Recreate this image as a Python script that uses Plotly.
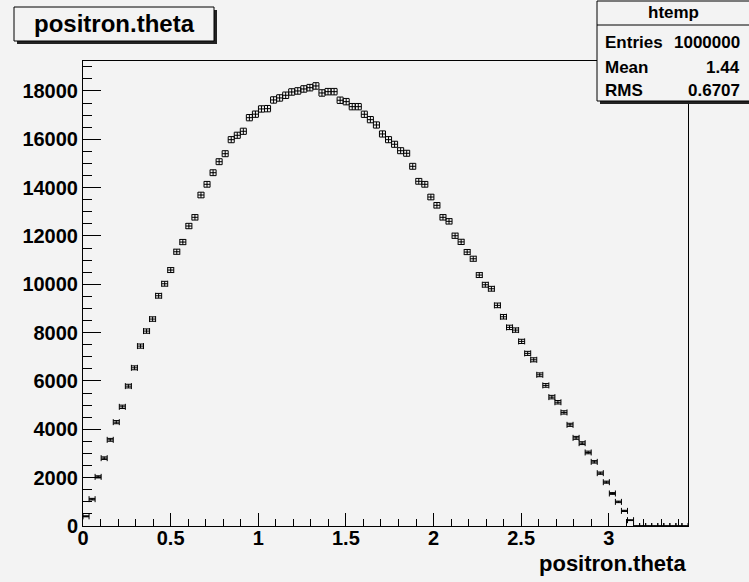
import numpy as np
import plotly.graph_objects as go

# Histogram definition (htemp)
XMIN = 0.0
XMAX = 3.452
NBINS = 100
counts = [
    400, 1110, 2033, 2807, 3565, 4297, 4931, 5788, 6545, 7444,
    8065, 8562, 9526, 10023, 10590, 11348, 11749, 12412, 12772, 13695,
    14138, 14618, 15074, 15405, 15985, 16167, 16332, 16895, 17040, 17256,
    17268, 17628, 17711, 17823, 17959, 18001, 18084, 18137, 18208, 17918,
    17972, 17972, 17616, 17558, 17351, 17351, 17036, 16813, 16593, 16221,
    15985, 15794, 15529, 15422, 14883, 14262, 14138, 13612, 13269, 12772,
    12606, 12010, 11756, 11335, 11058, 10383, 9982, 9816, 9129, 8657,
    8218, 8106, 7638, 7142, 6877, 6256, 5817, 5332, 5120, 4699,
    4186, 3647, 3428, 3043, 2654, 2186, 1813, 1346, 998, 625,
    240, 0, 0, 0, 0, 0, 0, 0, 0, 0,
]
y_ticks = [0, 2000, 4000, 6000, 8000, 10000, 12000, 14000, 16000, 18000]
y_ticklabels = ["0", "2000", "4000", "6000", "8000", "10000", "12000", "14000", "16000", "18000"]
x_ticks = [0, 0.5, 1, 1.5, 2, 2.5, 3]
x_ticklabels = ["0", "0.5", "1", "1.5", "2", "2.5", "3"]
Y_TOP = 19240

title_text = "positron.theta"
stats_name = "htemp"
stats_rows = [("Entries", "1000000"), ("Mean", "1.44"), ("RMS", "0.6707")]

W, H = 749, 582
L, R, T, B = 83, 61, 61, 56
PW, PH = W - L - R, H - T - B
BG = "#f3f3f3"
FONT = "Liberation Sans"

def fx(px):
    return (px - L) / PW

def fy(py):
    return (H - B - py) / PH

bw = (XMAX - XMIN) / NBINS
centers = XMIN + (np.arange(NBINS) + 0.5) * bw
cnt = np.array(counts, dtype=float)
err = np.sqrt(cnt)

fig = go.Figure()
fig.add_trace(go.Scatter(
    x=centers, y=cnt, mode="markers",
    marker=dict(size=1, color="black"),
    error_x=dict(type="constant", value=bw / 2, color="black", thickness=1, width=3),
    error_y=dict(type="data", array=err, color="black", thickness=1, width=3),
    showlegend=False, cliponaxis=True, hoverinfo="skip",
))

shapes = []
# title box with shadow
shapes.append(dict(type="rect", xref="paper", yref="paper",
                   x0=fx(17), x1=fx(217), y0=fy(44), y1=fy(10),
                   fillcolor="#222222", line=dict(width=0), layer="above"))
shapes.append(dict(type="rect", xref="paper", yref="paper",
                   x0=fx(14), x1=fx(214), y0=fy(41), y1=fy(7),
                   fillcolor=BG, line=dict(color="black", width=1), layer="above"))
# stats box with shadow
shapes.append(dict(type="rect", xref="paper", yref="paper",
                   x0=fx(600), x1=fx(760), y0=fy(104), y1=fy(4),
                   fillcolor="#222222", line=dict(width=0), layer="above"))
shapes.append(dict(type="rect", xref="paper", yref="paper",
                   x0=fx(597), x1=fx(757), y0=fy(101), y1=fy(1),
                   fillcolor=BG, line=dict(color="black", width=1), layer="above"))
shapes.append(dict(type="line", xref="paper", yref="paper",
                   x0=fx(597), x1=fx(757), y0=fy(25), y1=fy(25),
                   line=dict(color="black", width=1), layer="above"))

annotations = []
annotations.append(dict(text=title_text, xref="paper", yref="paper",
                        x=fx(114), y=fy(24), xanchor="center", yanchor="middle",
                        showarrow=False, font=dict(family=FONT, size=24, color="black", weight=700)))
annotations.append(dict(text=stats_name, xref="paper", yref="paper",
                        x=fx(673), y=fy(13), xanchor="center", yanchor="middle",
                        showarrow=False, font=dict(family=FONT, size=17, color="black", weight=700)))
row_y = [43, 67, 90]
for (lab, val), ry in zip(stats_rows, row_y):
    annotations.append(dict(text=lab, xref="paper", yref="paper",
                            x=fx(603), y=fy(ry), xanchor="left", yanchor="middle",
                            showarrow=False, font=dict(family=FONT, size=17, color="black", weight=700)))
    annotations.append(dict(text=val, xref="paper", yref="paper",
                            x=fx(742), y=fy(ry), xanchor="right", yanchor="middle",
                            showarrow=False, font=dict(family=FONT, size=17, color="black", weight=700)))
# x axis title
annotations.append(dict(text=title_text, xref="paper", yref="paper",
                        x=fx(688), y=fy(563), xanchor="right", yanchor="middle",
                        showarrow=False, font=dict(family=FONT, size=22, color="black", weight=700)))

fig.update_layout(
    width=W, height=H,
    margin=dict(l=L, r=R, t=T, b=B, pad=0, autoexpand=False),
    paper_bgcolor=BG, plot_bgcolor=BG,
    shapes=shapes, annotations=annotations,
    font=dict(family=FONT, color="black"),
    hovermode=False,
)
fig.update_xaxes(
    range=[XMIN, XMAX], showgrid=False, zeroline=False, automargin=False,
    showline=True, linecolor="black", linewidth=1, mirror=True,
    tickmode="array", tickvals=x_ticks, ticktext=x_ticklabels,
    ticks="inside", ticklen=13, tickwidth=1, tickcolor="black",
    ticklabelstandoff=-6,
    tickfont=dict(family=FONT, size=20, color="black", weight=700),
    minor=dict(ticks="inside", ticklen=7, tickwidth=1, tickcolor="black", dtick=0.1, tick0=0, showgrid=False),
)
fig.update_yaxes(
    range=[0, Y_TOP], showgrid=False, zeroline=False, automargin=False,
    showline=True, linecolor="black", linewidth=1, mirror=True,
    tickmode="array", tickvals=y_ticks, ticktext=y_ticklabels,
    ticks="inside", ticklen=18, tickwidth=1, tickcolor="black",
    tickfont=dict(family=FONT, size=20, color="black", weight=700),
    minor=dict(ticks="inside", ticklen=9, tickwidth=1, tickcolor="black", dtick=500, tick0=0, showgrid=False),
)

fig.write_html("out.html", config={"displayModeBar": False},
               post_script="document.body.style.margin='0';document.body.style.background='#f3f3f3';")
